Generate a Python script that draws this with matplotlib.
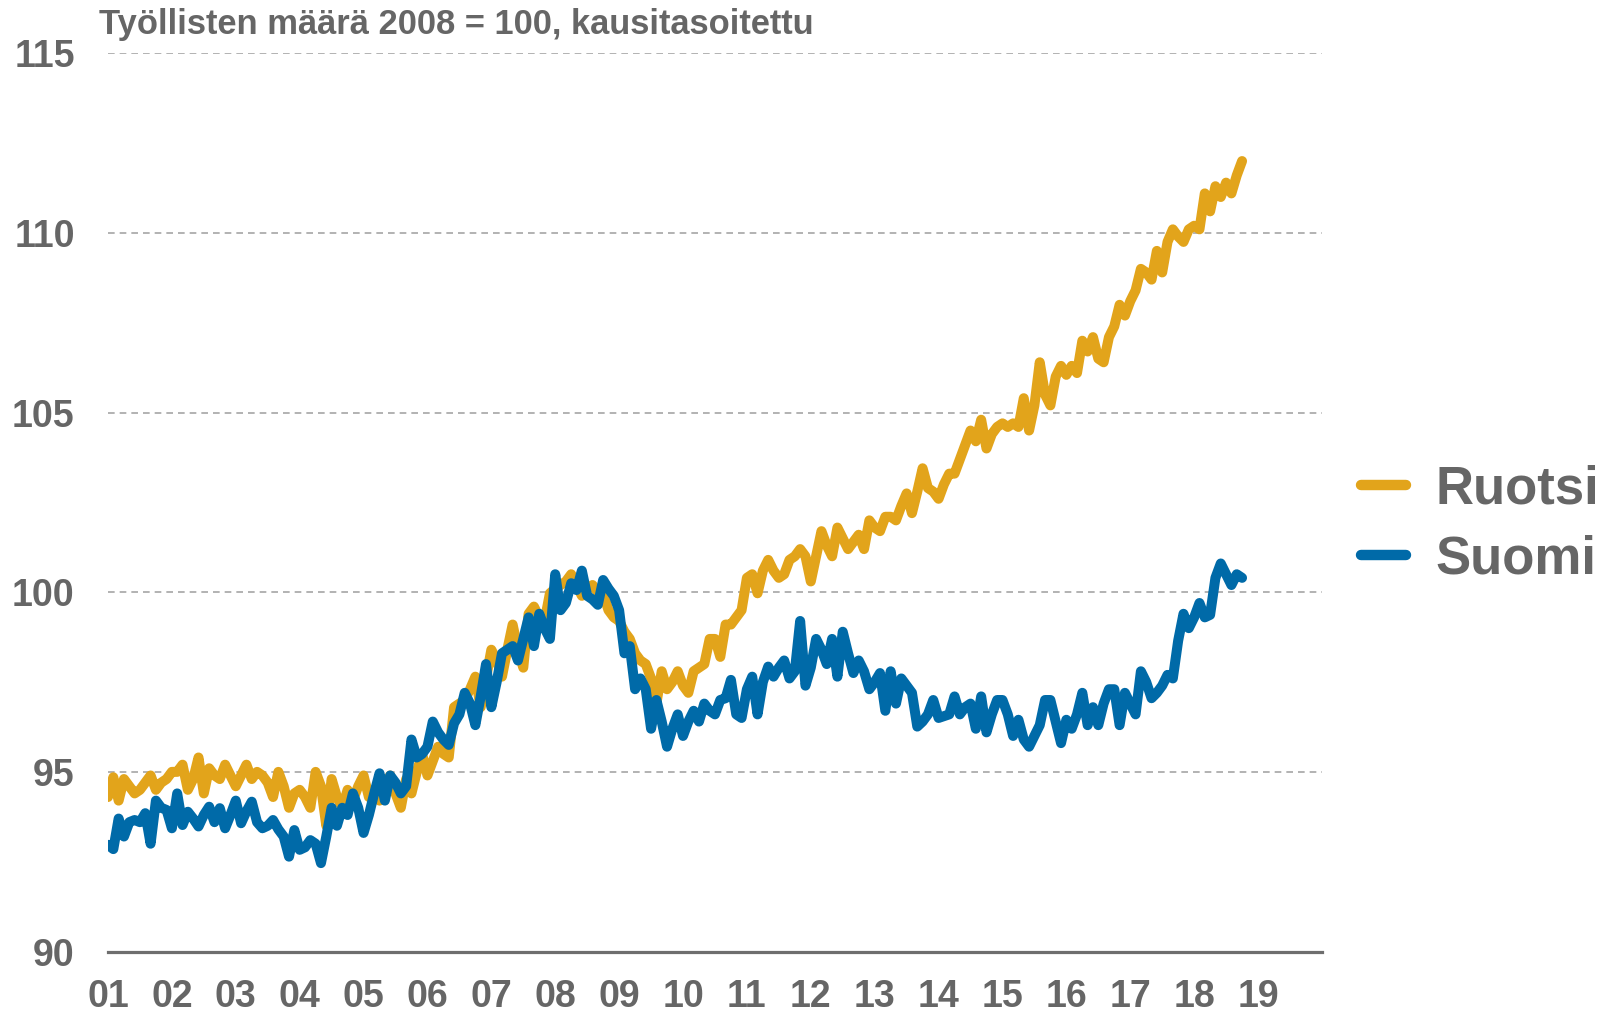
from __future__ import annotations

import matplotlib

matplotlib.use("Agg")
import matplotlib.pyplot as plt
import numpy as np

# Monthly index values, Jan 2001 - Oct 2018 (2008 = 100, seasonally adjusted)
start_year = 2001
ruotsi = [
    94.3, 94.85, 94.2, 94.8, 94.6, 94.4, 94.5, 94.7, 94.9, 94.5, 94.7, 94.8,
    95.0, 95.0, 95.2, 94.5, 94.8, 95.4, 94.4, 95.1, 94.9, 94.8, 95.2, 94.9,
    94.6, 94.9, 95.2, 94.8, 95.0, 94.9, 94.7, 94.3, 95.0, 94.6, 94.0, 94.4,
    94.5, 94.3, 94.0, 95.0, 94.6, 93.5, 94.8, 94.3, 94.0, 94.5, 94.2, 94.6,
    94.9, 94.3, 94.5, 94.2, 94.6, 94.9, 94.4, 94.0, 94.8, 94.4, 95.0, 95.5,
    94.9, 95.3, 95.7, 95.5, 95.4, 96.8, 96.9, 97.0, 97.3, 97.65, 96.8, 97.6,
    98.4, 98.1, 97.65, 98.4, 99.1, 98.4, 97.9, 99.4, 99.6, 99.3, 99.2, 99.97,
    100.1, 100.2, 100.3, 100.5, 100.2, 99.9, 100.1, 100.2, 100.0, 99.97, 99.5, 99.3,
    99.2, 98.9, 98.7, 98.3, 98.1, 98.0, 97.6, 96.9, 97.8, 97.3, 97.5, 97.8,
    97.4, 97.2, 97.8, 97.9, 98.0, 98.7, 98.7, 98.2, 99.1, 99.1, 99.3, 99.5,
    100.4, 100.5, 99.97, 100.6, 100.9, 100.6, 100.4, 100.5, 100.9, 101.0, 101.2, 101.0,
    100.3, 101.0, 101.7, 101.3, 101.0, 101.8, 101.5, 101.2, 101.4, 101.6, 101.2, 102.0,
    101.8, 101.7, 102.1, 102.1, 102.0, 102.4, 102.75, 102.2, 102.8, 103.45, 102.9, 102.8,
    102.6, 103.0, 103.3, 103.3, 103.7, 104.1, 104.5, 104.2, 104.8, 104.0, 104.4, 104.6,
    104.7, 104.6, 104.7, 104.6, 105.4, 104.5, 105.2, 106.4, 105.5, 105.2, 106.0, 106.3,
    106.05, 106.3, 106.1, 107.0, 106.7, 107.1, 106.5, 106.4, 107.1, 107.4, 108.0, 107.7,
    108.1, 108.4, 109.0, 108.9, 108.7, 109.5, 108.9, 109.75, 110.1, 109.9, 109.75, 110.1,
    110.2, 110.1, 111.1, 110.6, 111.3, 111.0, 111.4, 111.1, 111.6, 112.0,
]
suomi = [
    92.97, 92.85, 93.7, 93.2, 93.6, 93.66, 93.6, 93.85, 93.0, 94.2, 94.0, 93.94,
    93.43, 94.4, 93.52, 93.89, 93.7, 93.48, 93.8, 94.03, 93.6, 93.99, 93.43, 93.8,
    94.2, 93.57, 93.9, 94.17, 93.6, 93.43, 93.5, 93.66, 93.4, 93.2, 92.64, 93.38,
    92.83, 92.9, 93.1, 93.0, 92.46, 93.2, 94.0, 93.5, 94.0, 93.8, 94.4, 94.0,
    93.3, 93.8, 94.4, 94.96, 94.2, 94.9, 94.7, 94.4, 94.6, 95.9, 95.4, 95.5,
    95.7, 96.4, 96.1, 95.9, 95.75, 96.35, 96.6, 97.2, 96.9, 96.3, 97.1, 98.0,
    96.8, 97.5, 98.3, 98.4, 98.5, 98.1, 98.7, 99.3, 98.5, 99.4, 99.0, 98.7,
    100.5, 99.5, 99.7, 100.25, 100.06, 100.6, 99.9, 99.8, 99.65, 100.34, 100.1, 99.9,
    99.5, 98.3, 98.5, 97.3, 97.6, 97.3, 96.2, 97.0, 96.4, 95.7, 96.2, 96.6,
    96.0, 96.4, 96.7, 96.4, 96.9, 96.7, 96.6, 97.0, 97.05, 97.56, 96.6, 96.5,
    97.3, 97.65, 96.6, 97.5, 97.93, 97.65, 97.9, 98.1, 97.6, 97.8, 99.2, 97.4,
    97.9, 98.7, 98.4, 98.0, 98.7, 97.65, 98.9, 98.3, 97.75, 98.1, 97.8, 97.3,
    97.5, 97.75, 96.7, 97.8, 96.9, 97.6, 97.4, 97.2, 96.26, 96.4, 96.6, 97.0,
    96.5, 96.55, 96.6, 97.1, 96.6, 96.8, 96.9, 96.2, 97.1, 96.1, 96.6, 97.0,
    97.0, 96.6, 96.0, 96.45, 95.9, 95.7, 96.0, 96.3, 97.0, 97.0, 96.4, 95.8,
    96.45, 96.2, 96.6, 97.2, 96.3, 96.8, 96.3, 96.9, 97.3, 97.3, 96.3, 97.2,
    96.9, 96.6, 97.8, 97.5, 97.05, 97.2, 97.4, 97.7, 97.6, 98.65, 99.4, 99.0,
    99.3, 99.7, 99.3, 99.37, 100.4, 100.8, 100.5, 100.2, 100.5, 100.4,
]
year_ticks = list(range(2001, 2020))
year_labels = [f"{y % 100:02d}" for y in year_ticks]
y_ticks = [90, 95, 100, 105, 110, 115]
title = "Työllisten määrä 2008 = 100, kausitasoitettu"

GOLD = "#e2a41b"
BLUE = "#006aa8"
GREY = "#666666"
FONT = ["Liberation Sans", "DejaVu Sans"]


def main() -> None:
    t = start_year + np.arange(len(ruotsi)) / 12

    fig = plt.figure(figsize=(16.07, 10.13), dpi=100)
    ax = fig.add_axes([0.0672, 0.0607, 0.7554, 0.8867])

    ax.plot(t, ruotsi, color=GOLD, lw=7.2, solid_capstyle="round", solid_joinstyle="round", label="Ruotsi")
    ax.plot(t, suomi, color=BLUE, lw=7.2, solid_capstyle="round", solid_joinstyle="round", label="Suomi")

    ax.set_xlim(2001, 2020)
    ax.set_ylim(90, 115)
    ax.set_xticks(year_ticks, year_labels)
    ax.set_yticks(y_ticks)
    ax.tick_params(length=0)
    ax.tick_params(axis="y", pad=24)
    ax.tick_params(axis="x", pad=20)
    for lab in ax.get_xticklabels() + ax.get_yticklabels():
        lab.set_family(FONT)
        lab.set_fontsize(27)
        lab.set_fontweight("bold")
        lab.set_color(GREY)

    ax.grid(axis="y", linestyle=(0, (4, 3)), color="#a6a6a6", lw=1.2)
    ax.set_axisbelow(True)
    for side in ("top", "right", "left"):
        ax.spines[side].set_visible(False)
    ax.spines["bottom"].set_color("#6e6e6e")
    ax.spines["bottom"].set_linewidth(2.3)

    head = fig.text(0.0616, 0.9664, title, family=FONT, fontsize=24, fontweight="bold",
                    color=GREY, va="baseline", ha="left")
    # the original uses a condensed face; fit the title to the same width instead
    renderer = fig.canvas.get_renderer()
    w = head.get_window_extent(renderer).width
    head.set_fontsize(24 * 719 / w)

    leg = ax.legend(loc="center left", bbox_to_anchor=(0.847, 0.482), bbox_transform=fig.transFigure,
                    frameon=False, borderpad=0, borderaxespad=0, handlelength=0.85, handletextpad=0.55,
                    labelspacing=0.38, prop={"family": FONT, "weight": "bold", "size": 38})
    for txt in leg.get_texts():
        txt.set_color(GREY)
    for line in leg.get_lines():
        line.set_linewidth(7.5)

    fig.savefig("out.png", dpi=100)


if __name__ == "__main__":
    main()
